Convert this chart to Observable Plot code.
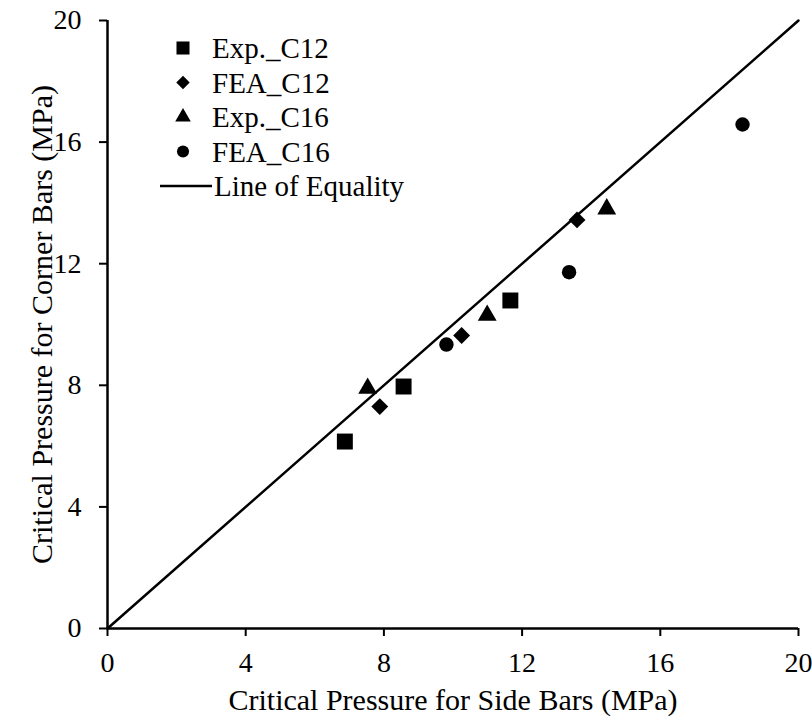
<!DOCTYPE html>
<html>
<head>
<meta charset="utf-8">
<script src="https://cdn.jsdelivr.net/npm/d3@7"></script>
<script src="https://cdn.jsdelivr.net/npm/@observablehq/plot@0.6"></script>
<style>
  html, body { margin: 0; padding: 0; background: #fff; }
  #chart { position: relative; width: 812px; height: 721px; }
  #legend { position: absolute; left: 0; top: 0; pointer-events: none; }
</style>
</head>
<body>
<div id="chart"></div>
<script>
// Data
const series = ["Exp._C12", "FEA_C12", "Exp._C16", "FEA_C16"];
const symbols = ["square", "diamond2", "triangle", "circle"];
const sideExpC12 = [6.87, 8.57, 11.66];
const cornerExpC12 = [6.15, 7.96, 10.79];
const sideFeaC12 = [7.88, 10.25, 13.59];
const cornerFeaC12 = [7.30, 9.64, 13.44];
const sideExpC16 = [7.53, 10.99, 14.45];
const cornerExpC16 = [7.90, 10.30, 13.80];
const sideFeaC16 = [9.81, 13.36, 18.38];
const cornerFeaC16 = [9.34, 11.72, 16.58];
const equalityLine = [0, 20];
const ticks = [0, 4, 8, 12, 16, 20];
const xLabel = "Critical Pressure for Side Bars (MPa)";
const yLabel = "Critical Pressure for Corner Bars (MPa)";
const lineLabel = "Line of Equality";

const sides = [sideExpC12, sideFeaC12, sideExpC16, sideFeaC16];
const corners = [cornerExpC12, cornerFeaC12, cornerExpC16, cornerFeaC16];
const seriesPoints = series.map((s, i) => sides[i].map((x, j) => ({series: s, x, y: corners[i][j]})));
const lineData = equalityLine.map(v => ({x: v, y: v}));
const radii = [9, 7.6, 7, 7.2];

const font = "'Liberation Serif', 'Times New Roman', serif";

const plot = Plot.plot({
  width: 812,
  height: 721,
  marginLeft: 107,
  marginRight: 14,
  marginTop: 20,
  marginBottom: 93,
  style: {fontFamily: font, fontSize: "28px", color: "#000", background: "#fff", overflow: "visible"},
  x: {domain: [0, 20]},
  y: {domain: [0, 20]},
  marks: [
    Plot.axisX({ticks, tickSize: 8, tickPadding: 16, label: null, strokeWidth: 2, fontSize: 28}),
    Plot.axisY({ticks, tickSize: 8, tickPadding: 18, label: null, strokeWidth: 2, fontSize: 28}),
    Plot.ruleY([0], {stroke: "#000", strokeWidth: 2.5}),
    Plot.ruleX([0], {stroke: "#000", strokeWidth: 2.5}),
    Plot.line(lineData, {x: "x", y: "y", stroke: "#000", strokeWidth: 2.5}),
    ...seriesPoints.map((pts, i) => Plot.dot(pts, {x: "x", y: "y", symbol: symbols[i], fill: "#000", stroke: "none", r: radii[i]})),
    Plot.text([xLabel], {frameAnchor: "bottom", dy: 72, lineAnchor: "middle", textAnchor: "middle", fontSize: 30, fill: "#000"}),
    Plot.text([yLabel], {frameAnchor: "left", dx: -65, rotate: -90, lineAnchor: "middle", textAnchor: "middle", fontSize: 30, fill: "#000"})
  ]
});
document.getElementById("chart").appendChild(plot);

// Legend overlay
const legendItems = series.map((s, i) => ({label: s, symbol: symbols[i]}));
const symMap = {square: d3.symbolSquare, diamond2: d3.symbolDiamond2, triangle: d3.symbolTriangle, circle: d3.symbolCircle};
const lsize = {square: 170, diamond2: 115, triangle: 105, circle: 115};
const svg = d3.select("#chart").append("svg")
  .attr("id", "legend").attr("width", 812).attr("height", 721)
  .style("font-family", font).style("font-size", "29px");
const rowY0 = 48, rowStep = 34.5;
legendItems.forEach((d, i) => {
  const y = rowY0 + i * rowStep;
  svg.append("path").attr("d", d3.symbol(symMap[d.symbol], lsize[d.symbol])())
    .attr("transform", `translate(183,${y})`).attr("fill", "#000");
  svg.append("text").attr("x", 212).attr("y", y).attr("dy", "0.35em").attr("fill", "#000").text(d.label);
});
const ly = rowY0 + 4 * rowStep;
svg.append("line").attr("x1", 160).attr("x2", 212).attr("y1", ly).attr("y2", ly).attr("stroke", "#000").attr("stroke-width", 2.5);
svg.append("text").attr("x", 214).attr("y", ly).attr("dy", "0.35em").attr("fill", "#000").text(lineLabel);
</script>
</body>
</html>
